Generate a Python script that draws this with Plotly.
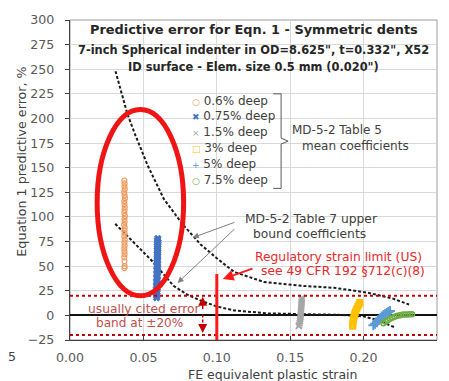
import plotly.graph_objects as go

# ---- measured series: FE equivalent plastic strain vs. Eqn. 1 predictive error (%) ----
x_06 = [0.0370, 0.0372, 0.0371, 0.0373, 0.0369, 0.0372, 0.0374, 0.0370, 0.0371, 0.0373,
        0.0372, 0.0370, 0.0374, 0.0371, 0.0372, 0.0369, 0.0373, 0.0371, 0.0372, 0.0370,
        0.0373, 0.0371, 0.0372, 0.0370, 0.0371, 0.0372, 0.0370, 0.0371, 0.0372, 0.0371]
y_06 = [137, 134, 131, 128, 125, 122, 119, 116, 113, 110, 107, 104, 101, 98, 95,
        92, 89, 86, 83, 80, 77, 74, 71, 68, 65, 62, 59, 55, 50, 48]

x_075 = [0.0598, 0.0596, 0.0599, 0.0597, 0.0595, 0.0598, 0.0596, 0.0597, 0.0594, 0.0597,
         0.0595, 0.0596, 0.0593, 0.0596, 0.0594, 0.0595, 0.0592, 0.0595, 0.0593, 0.0594,
         0.0591, 0.0594, 0.0592, 0.0593, 0.0590, 0.0593, 0.0591, 0.0592, 0.0590, 0.0591, 0.0590]
y_075 = [78, 76, 74, 72, 70, 68, 66, 64, 62, 60, 58, 56, 54, 52, 50, 48, 46, 44, 42, 40,
         38, 36, 34, 32, 30, 28, 26, 24, 22, 20, 18]

x_15 = [0.1580, 0.1579, 0.1578, 0.1577, 0.1576, 0.1575, 0.1574, 0.1573, 0.1572, 0.1571,
        0.1570, 0.1568, 0.1566, 0.1564, 0.1561, 0.1558]
y_15 = [18, 16, 14, 12, 10, 8, 6, 4, 2, 0, -2, -4, -6, -8, -10, -11]

x_3 = [0.1975, 0.1968, 0.1961, 0.1954, 0.1948, 0.1943, 0.1939, 0.1936, 0.1933, 0.1930,
       0.1928, 0.1926, 0.1925]
y_3 = [13, 11, 9, 7, 5, 3, 1, -1, -3, -5, -7, -9, -11]

x_5 = [0.2066, 0.2078, 0.2090, 0.2100, 0.2112, 0.2124, 0.2136, 0.2147, 0.2158, 0.2169, 0.2180]
y_5 = [-10, -8.5, -7, -5, -3, -1, 0.5, 1.5, 2.5, 3.5, 4.5]

x_75 = [0.2135, 0.2150, 0.2165, 0.2180, 0.2195, 0.2210, 0.2225, 0.2240, 0.2255, 0.2270,
        0.2285, 0.2300, 0.2315, 0.2330]
y_75 = [-8, -6.5, -5, -3.5, -2.5, -1.5, -0.5, 0, 0.5, 0.8, 1.0, 1.0, 1.2, 1.2]

# ---- MD-5-2 Table 7 upper-bound coefficient curves ----
x_ub_hi = [0.031, 0.039, 0.044, 0.053, 0.064, 0.077, 0.089, 0.100, 0.112, 0.132,
           0.158, 0.180, 0.203, 0.220, 0.231]
y_ub_hi = [248, 205, 185, 152, 118, 92, 72, 58, 44, 34, 30, 28, 23, 17, 11]

x_ub_lo = [0.0308, 0.040, 0.0514, 0.0548, 0.0625, 0.0705, 0.080, 0.089, 0.100, 0.112,
           0.135, 0.160, 0.185, 0.200, 0.210, 0.221]
y_ub_lo = [93, 79, 62, 57, 44, 30, 21, 15, 9, 5, 2, 1, 0.5, -1, -5, -12]

# ---- reference levels ----
error_band = 20            # usually cited error band, +/- %
strain_limit = 0.10        # regulatory strain limit (US)
strain_limit_top = 42

x_ticks = [0.00, 0.05, 0.10, 0.15, 0.20, 0.25]
y_ticks = [-25, 0, 25, 50, 75, 100, 125, 150, 175, 200, 225, 250, 275, 300]

FONT = "DejaVu Sans"
TXT = "#404040"

# name, x, y, marker symbol, colour, size, line width, key glyph
series = [
    ("0.6% deep", x_06, y_06, "circle-open", "#EE9A5E", 5, 1.2, "○"),
    ("0.75% deep", x_075, y_075, "x", "#4472C4", 6, 1.0, "✖"),
    ("1.5% deep", x_15, y_15, "x-thin-open", "#A5A5A5", 6, 1.5, "×"),
    ("3% deep", x_3, y_3, "square-open", "#FFC000", 5, 2.0, "□"),
    ("5% deep", x_5, y_5, "cross-thin-open", "#5B9BD5", 7, 2.0, "+"),
    ("7.5% deep", x_75, y_75, "circle-open", "#70AD47", 5, 1.5, "○"),
]
key_rows_y = [218, 202, 186, 170, 154, 138]   # key rows, in axis units
key_x = 0.0822

fig = go.Figure()

fig.add_trace(go.Scatter(x=x_ub_hi, y=y_ub_hi, mode="lines", showlegend=False,
                         line=dict(color="#1a1a1a", width=2, dash="3px,2px")))
fig.add_trace(go.Scatter(x=x_ub_lo, y=y_ub_lo, mode="lines", showlegend=False,
                         line=dict(color="#1a1a1a", width=2, dash="3px,2px")))

for name, xs, ys, sym, col, size, lw, _ in series:
    fig.add_trace(go.Scatter(x=xs, y=ys, mode="markers", name=name, showlegend=False,
                             marker=dict(symbol=sym, size=size, color=col,
                                         line=dict(color=col, width=lw))))

shapes = [
    # +/- error band
    dict(type="line", xref="x", yref="y", x0=0, x1=0.25, y0=error_band, y1=error_band,
         line=dict(color="#C00000", width=2, dash="dot")),
    dict(type="line", xref="x", yref="y", x0=0, x1=0.25, y0=-error_band, y1=-error_band,
         line=dict(color="#C00000", width=2, dash="dot")),
    # regulatory strain limit
    dict(type="line", xref="x", yref="y", x0=strain_limit, x1=strain_limit,
         y0=-25, y1=strain_limit_top, line=dict(color="#FF1A1A", width=3)),
    # dashed lower half of the band arrow
    dict(type="line", xref="x", yref="y", x0=0.0904, x1=0.0904, y0=1, y1=-13,
         line=dict(color="#C00000", width=1.5, dash="3px,2px")),
    # highlight ellipse
    dict(type="circle", xref="x", yref="y", x0=0.0185, x1=0.0774, y0=20, y1=209,
         line=dict(color="#F01414", width=5)),
    # key bracket
    dict(type="path", xref="x", yref="y",
         path="M 0.1384,225 L 0.1438,225 L 0.1438,180 L 0.1486,177 L 0.1438,174 "
              "L 0.1438,129 L 0.1384,129",
         line=dict(color="#595959", width=1)),
    # top/right frame
    dict(type="rect", xref="paper", yref="paper", x0=0, x1=1, y0=0, y1=1,
         line=dict(color="#9A9A9A", width=1), layer="below"),
]


def note(text, x, y, color=TXT, size=12.5, bold=False, xanchor="center", **kw):
    t = f"<b>{text}</b>" if bold else text
    return dict(text=t, x=x, y=y, xref=kw.pop("xref", "x"), yref=kw.pop("yref", "y"),
                showarrow=False, xanchor=xanchor, yanchor="middle", borderpad=0,
                font=dict(family=FONT, size=size, color=color), **kw)


def arrow(x, y, ax, ay, color, width=1, head=2, size=1):
    return dict(x=x, y=y, ax=ax, ay=ay, xref="x", yref="y", axref="x", ayref="y",
                text="", showarrow=True, arrowhead=head, arrowsize=size,
                arrowwidth=width, arrowcolor=color)


annotations = [
    note("Predictive error for Eqn. 1 - Symmetric dents", 0.125, 290, size=12.9,
         bold=True, color="#262626"),
    note("7-inch Spherical indenter in OD=8.625\", t=0.332\", X52", 0.125, 270, size=11.4,
         bold=True, color="#262626"),
    note("ID surface - Elem. size 0.5 mm (0.020\")", 0.125, 252, size=11.4, bold=True,
         color="#262626"),
    note("MD-5-2 Table 5", 0.1507, 188, size=12, xanchor="left"),
    note("mean coefficients", 0.1575, 172, size=12, xanchor="left"),
    note("MD-5-2 Table 7 upper", 0.1644, 98, size=12.3),
    note("bound coefficients", 0.163, 83, size=12.3),
    note("Regulatory strain limit (US)", 0.1829, 59, size=12.3, color="#E8282B"),
    note("see 49 CFR 192 §712(c)(8)", 0.186, 45, size=12.3, color="#E8282B"),
    note("usually cited error", 0.0507, 6.5, size=12.3, color="#C0504D"),
    note("band at ±20%", 0.047, -7.5, size=12.1, color="#C0504D"),
    arrow(0.0836, 79, 0.113, 95, "#808080", head=2, size=1.2),
    arrow(0.0733, 33, 0.113, 89, "#808080", head=2, size=1.2),
    arrow(0.1041, 37, 0.1253, 48, "#FF1A1A", width=1.8, head=2, size=1.2),
    arrow(0.0904, 19, 0.0904, 5, "#C00000", width=1.5, head=2, size=1.2),
    arrow(0.0904, -18, 0.0904, -11, "#C00000", width=1.5, head=2, size=1.2),
    # axis titles
    note("Equation 1 predictive error, %", -0.131, 0.557, xref="paper", yref="paper",
         size=12.7, textangle=-90),
    note("FE equivalent plastic strain", 0.553, -0.108, xref="paper", yref="paper",
         size=12.5),
    note("5", -0.158, -0.052, xref="paper", yref="paper", size=12.6),
]

# series key, one row per trace
for (name, _, _, _, col, _, _, glyph), ky in zip(series, key_rows_y):
    annotations.append(note(
        f"<span style='color:{col};font-size:9px'>{glyph}</span> {name}",
        key_x, ky, size=12, xanchor="left"))

fig.update_layout(
    width=449, height=381,
    margin=dict(l=70, r=12, t=15, b=41),
    paper_bgcolor="white", plot_bgcolor="white",
    font=dict(family=FONT, size=12.5, color=TXT),
    showlegend=False,
    shapes=shapes, annotations=annotations,
    xaxis=dict(range=[0, 0.25], tickvals=x_ticks, tickformat=".2f",
               showgrid=True, gridcolor="#D9D9D9", gridwidth=1,
               showline=True, linecolor="#404040", linewidth=1.2,
               ticks="inside", ticklen=4, tickcolor="#404040",
               zeroline=False, tickfont=dict(family=FONT, size=12.6, color="#595959"),
               ticklabelstandoff=6),
    yaxis=dict(range=[-25, 300], tickvals=y_ticks,
               showgrid=True, gridcolor="#D9D9D9", gridwidth=1,
               showline=True, linecolor="#404040", linewidth=1.2,
               ticks="outside", ticklen=4, tickcolor="#404040",
               zeroline=True, zerolinecolor="#111111", zerolinewidth=1.5,
               tickfont=dict(family=FONT, size=12.6, color="#595959"),
               ticklabelstandoff=8),
)

fig.write_html("out.html")
